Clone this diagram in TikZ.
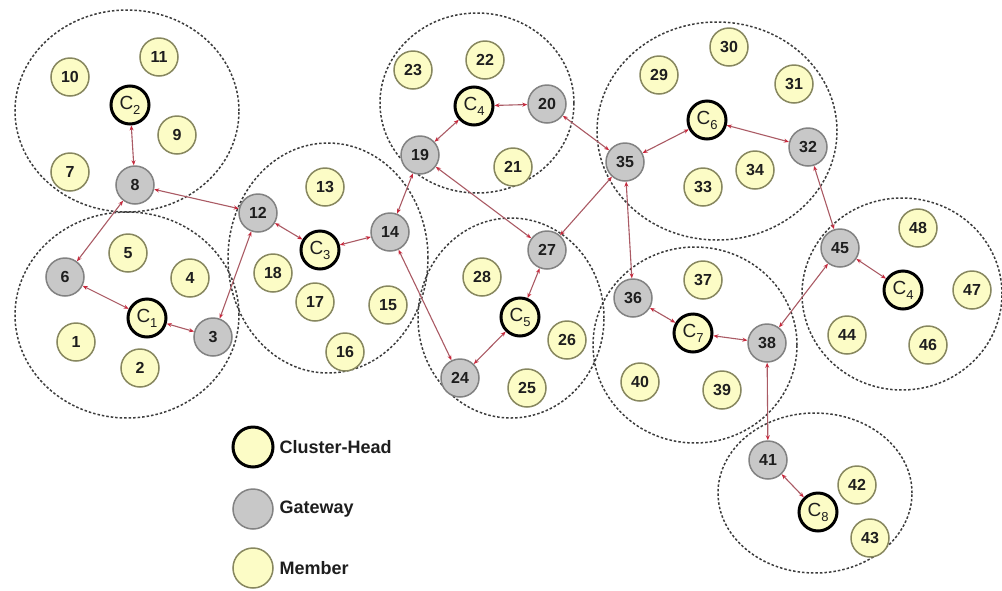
\documentclass[tikz,border=0pt]{standalone}
\usepackage{fontspec}
\setmainfont{Liberation Sans}
\usetikzlibrary{arrows.meta}
\definecolor{memfill}{RGB}{252,252,198}
\definecolor{memline}{RGB}{135,135,95}
\definecolor{gwfill}{RGB}{200,200,200}
\definecolor{gwline}{RGB}{130,130,130}
\definecolor{linkc}{RGB}{170,90,100}
\definecolor{tipc}{RGB}{200,40,60}
\definecolor{txt}{RGB}{30,30,30}
\definecolor{dashc}{RGB}{60,60,60}
\newcommand{\hd}[1]{C\raisebox{-5pt}{\fontsize{13}{13}\selectfont #1}}
\begin{document}
\begin{tikzpicture}[x=1pt,y=-1pt,
  nd/.style={circle, minimum size=38pt, inner sep=0pt, text=txt},
  member/.style={nd, draw=memline, fill=memfill, line width=1.5pt, font=\fontsize{16}{16}\selectfont\bfseries},
  gate/.style={nd, draw=gwline, fill=gwfill, line width=1.5pt, font=\fontsize{16}{16}\selectfont\bfseries},
  head/.style={nd, draw=black, fill=memfill, line width=3pt, font=\fontsize{19}{19}\selectfont},
  link/.style={draw=linkc, line width=1.1pt,
    {Stealth[length=5pt,width=4pt,color=tipc]}-{Stealth[length=5pt,width=4pt,color=tipc]}},
  cluster/.style={draw=dashc, line width=1.5pt, dash pattern=on 2.5pt off 2pt},
  legtext/.style={anchor=west, text=txt, font=\fontsize{18}{18}\selectfont\bfseries}]
\useasboundingbox (0,0) rectangle (1002,590);
\fill[white] (0,0) rectangle (1002,590);

% cluster boundaries
\draw[cluster] (127,111) ellipse [x radius=112pt, y radius=101pt];
\draw[cluster] (127,315) ellipse [x radius=112pt, y radius=103pt];
\draw[cluster] (328,258) ellipse [x radius=100pt, y radius=115pt];
\draw[cluster] (477,103) ellipse [x radius=97pt, y radius=90pt];
\draw[cluster] (511,318) ellipse [x radius=93pt, y radius=100pt];
\draw[cluster] (717,131) ellipse [x radius=120pt, y radius=109pt];
\draw[cluster] (695,345) ellipse [x radius=102pt, y radius=98pt];
\draw[cluster] (902,294) ellipse [x radius=100pt, y radius=96pt];
\draw[cluster] (815,493) ellipse [x radius=97pt, y radius=80pt];

% members
\node[member] (n1)  at (76,342)  {1};
\node[member] (n2)  at (140,368) {2};
\node[member] (n4)  at (190,278) {4};
\node[member] (n5)  at (128,253) {5};
\node[member] (n7)  at (70,172)  {7};
\node[member] (n9)  at (177,135) {9};
\node[member] (n10) at (70,77)   {10};
\node[member] (n11) at (159,57)  {11};
\node[member] (n13) at (325,187) {13};
\node[member] (n15) at (388,305) {15};
\node[member] (n16) at (345,352) {16};
\node[member] (n17) at (315,302) {17};
\node[member] (n18) at (273,273) {18};
\node[member] (n21) at (513,167) {21};
\node[member] (n22) at (485,60)  {22};
\node[member] (n23) at (413,70)  {23};
\node[member] (n25) at (527,388) {25};
\node[member] (n26) at (567,340) {26};
\node[member] (n28) at (482,277) {28};
\node[member] (n29) at (659,75)  {29};
\node[member] (n30) at (729,47)  {30};
\node[member] (n31) at (794,84)  {31};
\node[member] (n33) at (703,187) {33};
\node[member] (n34) at (755,170) {34};
\node[member] (n37) at (703,280) {37};
\node[member] (n39) at (722,390) {39};
\node[member] (n40) at (640,382) {40};
\node[member] (n42) at (857,485) {42};
\node[member] (n43) at (870,538) {43};
\node[member] (n44) at (847,335) {44};
\node[member] (n46) at (928,345) {46};
\node[member] (n47) at (972,290) {47};
\node[member] (n48) at (918,228) {48};

% gateways
\node[gate] (n3)  at (213,337) {3};
\node[gate] (n6)  at (65,277)  {6};
\node[gate] (n8)  at (135,185) {8};
\node[gate] (n12) at (258,213) {12};
\node[gate] (n14) at (390,232) {14};
\node[gate] (n19) at (420,155) {19};
\node[gate] (n20) at (547,104) {20};
\node[gate] (n24) at (460,378) {24};
\node[gate] (n27) at (547,250) {27};
\node[gate] (n32) at (808,147) {32};
\node[gate] (n35) at (625,162) {35};
\node[gate] (n36) at (633,298) {36};
\node[gate] (n38) at (767,343) {38};
\node[gate] (n41) at (768,460) {41};
\node[gate] (n45) at (840,248) {45};

% cluster heads
\node[head] (c1)  at (147,318) {\hd{1}};
\node[head] (c2)  at (130,105) {\hd{2}};
\node[head] (c3)  at (320,250) {\hd{3}};
\node[head] (c4)  at (474,106) {\hd{4}};
\node[head] (c5)  at (520,317) {\hd{5}};
\node[head] (c6)  at (707,120) {\hd{6}};
\node[head] (c7)  at (693,333) {\hd{7}};
\node[head] (c8)  at (818,512) {\hd{8}};
\node[head] (c4b) at (903,290) {\hd{4}};

% links
\draw[link] (c2) -- (n8);
\draw[link] (n8) -- (n12);
\draw[link] (n8) -- (n6);
\draw[link] (n6) -- (c1);
\draw[link] (c1) -- (n3);
\draw[link] (n3) -- (n12);
\draw[link] (n12) -- (c3);
\draw[link] (c3) -- (n14);
\draw[link] (n14) -- (n19);
\draw[link] (n14) -- (n24);
\draw[link] (n19) -- (c4);
\draw[link] (c4) -- (n20);
\draw[link] (n19) -- (n27);
\draw[link] (n20) -- (n35);
\draw[link] (n35) -- (n27);
\draw[link] (n35) -- (c6);
\draw[link] (n35) -- (n36);
\draw[link] (n27) -- (c5);
\draw[link] (c5) -- (n24);
\draw[link] (c6) -- (n32);
\draw[link] (n32) -- (n45);
\draw[link] (n45) -- (c4b);
\draw[link] (n45) -- (n38);
\draw[link] (n36) -- (c7);
\draw[link] (c7) -- (n38);
\draw[link] (n38) -- (n41);
\draw[link] (n41) -- (c8);

% legend
\node[head, minimum size=40pt] (lh) at (253,447) {};
\node[gate, minimum size=40pt] (lg) at (253,509) {};
\node[member, minimum size=40pt] (lm) at (253,568) {};
\node[legtext] (th) at (276,447) {Cluster-Head};
\node[legtext] (tg) at (276,509) {Gateway};
\node[legtext] (tm) at (276,568) {Member};
\end{tikzpicture}
\end{document}
